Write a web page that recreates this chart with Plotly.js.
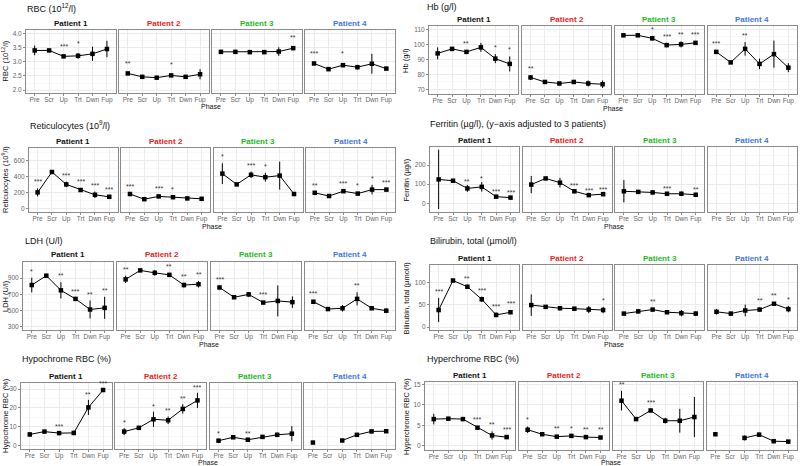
<!DOCTYPE html>
<html>
<head>
<meta charset="utf-8">
<script src="https://cdn.plot.ly/plotly-3.0.1.min.js"></script>
<style>html,body{margin:0;padding:0;background:#fff;}#chart{width:800px;height:466px;}</style>
</head>
<body>
<div id="chart"></div>
<script>
const phases = ['Pre','Scr','Up','Trt','Dwn','Fup'];
const patients = ['Patient 1','Patient 2','Patient 3','Patient 4'];
const patientColors = ['#111111','#EE2222','#22BB22','#4477DD'];

// RBC (10^12/l)
const rbcMean = [[3.40,3.40,3.19,3.21,3.28,3.45],[2.59,2.47,2.44,2.52,2.47,2.56],[3.35,3.35,3.34,3.34,3.36,3.48],[2.94,2.74,2.88,2.81,2.93,2.76]];
const rbcSd   = [[0.17,0.03,0.03,0.10,0.25,0.29],[0.03,0.03,0.02,0.04,0.05,0.18],[0.04,0.05,0.03,0.03,0.15,0.05],[0.03,0.04,0.07,0.08,0.35,0.05]];
const rbcSig  = [['','','***','*','',''],['**','','','*','',''],['','','','','','**'],['***','','*','','','']];

// Hb (g/l)
const hbMean = [[94,97,95,98,90.5,87],[78,75,74,75,74,73.5],[106,106,104,99.5,100,101],[95,88,97,87,93.5,84.5]];
const hbSd   = [[4,1,1,3,3,5],[1.5,1,1,1,2,2.5],[1,1,1.5,1.5,2,1],[1,1,4.5,3.5,9,3]];
const hbSig  = [['','','**','','*','*'],['**','','','','',''],['','','*','***','**','***'],['***','','**','','','']];

// Reticulocytes (10^9/l)
const retMean = [[205,460,305,235,175,150],[185,120,155,145,130,125],[440,305,425,395,415,185],[200,160,220,190,240,240]];
const retSd   = [[50,15,35,20,40,15],[15,20,15,15,10,10],[130,10,40,55,175,15],[15,15,15,20,60,10]];
const retSig  = [['***','','***','***','***','***'],['***','','***','*','',''],['*','','***','*','',''],['**','','***','*','*','***']];

// Ferritin (ug/l)
const ferMean = [[125,118,78,86,35,30],[98,130,108,63,43,48],[63,60,57,50,50,45],[null,null,null,null,null,null]];
const ferSd   = [[155,8,18,25,8,8],[45,8,25,10,8,8],[58,8,10,10,12,10],[null,null,null,null,null,null]];
const ferSig  = [['','','**','*','***','***'],['','','','***','***','***'],['','','','***','','**'],['','','','','','']];

// LDH (U/l)
const ldhMean = [[815,930,750,645,515,535],[885,995,965,940,815,825],[785,665,700,600,620,605],[610,520,530,645,530,500]];
const ldhSd   = [[90,10,100,15,110,135],[45,10,35,25,30,40],[20,15,30,20,190,70],[20,10,40,80,20,30]];
const ldhSig  = [['*','','**','***','**','**'],['**','','','**','**','**'],['***','','','***','',''],['***','','','**','','']];

// Bilirubin, total (umol/l)
const bilMean = [[38,104,90,62,27,33],[49,45,42,41,39,38],[30,35,39,33,31,30],[34,30,37,39,52,40]];
const bilSd   = [[27,3,5,6,5,4],[24,4,4,4,8,7],[3,5,3,3,7,5],[6,4,13,5,3,7]];
const bilSig  = [['***','','**','***','***','***'],['','','','','','*'],['','','**','','',''],['','','','**','**','*']];

// Hypochrome RBC (%)
const hypoMean = [[6,7.5,6.7,6.8,20.3,29.5],[7.5,9.5,14,13.5,19.5,24],[2.7,4.5,3.2,4.7,5.8,6.4],[1.7,null,2.8,5.8,7.6,7.7]];
const hypoSd   = [[1.2,0.8,0.7,1.2,4,0.7],[1.8,0.6,4,2,2.5,4],[1,0.8,0.6,0.8,1.2,4],[0.5,null,0.6,0.8,0.7,0.8]];
const hypoSig  = [['','','***','','**','***'],['*','','*','**','**','***'],['*','','**','','',''],['','','','','','']];

// Hyperchrome RBC (%)
const hyperMean = [[6.5,6.6,6.5,4.4,2.5,2.1],[3.9,2.8,2.2,2.4,2.1,2.0],[11,6.5,8.6,6.1,6.1,7],[2.8,null,1.9,2.7,1.1,1.0]];
const hyperSd   = [[1.3,0.4,0.4,0.4,1,0.3],[0.8,0.3,0.3,0.3,0.3,0.3],[2.4,0.3,0.4,0.7,2.9,4.9],[0.4,null,0.6,0.5,0.5,0.4]];
const hyperSig  = [['','','','***','**','***'],['*','','**','*','**','**'],['**','','***','','',''],['','','','','','']];

const W = 800, H = 466;
const FONT = 'Liberation Sans, Arial, Helvetica, sans-serif';

const groups = [
  {mean: rbcMean, sd: rbcSd, sig: rbcSig, title: 'RBC (10<sup>12</sup>/l)', ytitle: 'RBC (10<sup>12</sup>/l)',
   range: [1.9, 4.12], tick0: 2, dtick: 0.5, fmt: '.1f', box: [26, 395, 30, 93], tpos: [25, 8], ytx: 5, shift: 4},
  {mean: hbMean, sd: hbSd, sig: hbSig, title: 'Hb (g/l)', ytitle: 'Hb (g/l)',
   range: [67, 112.2], tick0: 70, dtick: 10, fmt: '', box: [429, 797, 26, 94], tpos: [425, 7], ytx: 406, shift: 1},
  {mean: retMean, sd: retSd, sig: retSig, title: 'Reticulocytes (10<sup>9</sup>/l)', ytitle: 'Reticulocytes (10<sup>9</sup>/l)',
   range: [-40, 760], tick0: 0, dtick: 200, fmt: '', box: [29, 395, 148, 212], tpos: [28, 125], ytx: 5, shift: 1},
  {mean: ferMean, sd: ferSd, sig: ferSig, title: 'Ferritin (µg/l), (y\u2212axis adjusted to 3 patients)', ytitle: 'Ferritin (µg/l)',
   range: [-45, 294], tick0: 0, dtick: 100, fmt: '', box: [430, 797, 147, 212], tpos: [428, 124], ytx: 406, shift: -2},
  {mean: ldhMean, sd: ldhSd, sig: ldhSig, title: 'LDH (U/l)', ytitle: 'LDH (U/l)',
   range: [263, 1098], tick0: 300, dtick: 200, fmt: '', box: [23, 395, 262, 330], tpos: [23, 241], ytx: 5, shift: 1},
  {mean: bilMean, sd: bilSd, sig: bilSig, title: 'Bilirubin, total (µmol/l)', ytitle: 'Bilirubin, total (µmol/l)',
   range: [-6.7, 138.7], tick0: 0, dtick: 50, fmt: '', box: [430, 797, 265, 330], tpos: [428, 241], ytx: 406, shift: 1},
  {mean: hypoMean, sd: hypoSd, sig: hypoSig, title: 'Hypochrome RBC (%)', ytitle: 'Hypochrome RBC (%)',
   range: [-1.7, 33.2], tick0: 0, dtick: 10, fmt: '', box: [21, 395, 383, 449], tpos: [20, 359], ytx: 5, shift: 0},
  {mean: hyperMean, sd: hyperSd, sig: hyperSig, title: 'Hyperchrome RBC (%)', ytitle: 'Hyperchrome RBC (%)',
   range: [-1.05, 15.56], tick0: 0, dtick: 5, fmt: '', box: [425, 797, 382, 450], tpos: [425, 359], ytx: 406, shift: 1}
];

const traces = [];
const annotations = [];
const layout = {
  width: W, height: H,
  margin: {l: 0, r: 0, t: 0, b: 0},
  paper_bgcolor: '#ffffff', plot_bgcolor: '#ffffff',
  showlegend: false,
  font: {family: FONT, size: 7, color: '#4d4d4d'}
};

const GAP = 3.5;
let n = 0;
groups.forEach(g => {
  const [x0, x1, yTop, yBot] = g.box;
  const pw = (x1 - x0 - 3 * GAP) / 4;
  const yd = [1 - yBot / H, 1 - yTop / H];
  for (let p = 0; p < 4; p++) {
    n++;
    const xs = n === 1 ? 'x' : 'x' + n;
    const ys = n === 1 ? 'y' : 'y' + n;
    const xk = n === 1 ? 'xaxis' : 'xaxis' + n;
    const yk = n === 1 ? 'yaxis' : 'yaxis' + n;
    const px0 = x0 + p * (pw + GAP), px1 = px0 + pw;
    layout[xk] = {
      domain: [px0 / W, px1 / W], anchor: ys, type: 'category',
      categoryorder: 'array', categoryarray: phases, range: [-0.6, 5.6],
      showline: true, mirror: true, linecolor: '#8a8a8a', linewidth: 1,
      showgrid: true, gridcolor: '#ebebeb', gridwidth: 1, zeroline: false,
      ticks: 'outside', ticklen: 2, tickcolor: '#8a8a8a', tickwidth: 1, tickangle: 0,
      ticklabelstandoff: -2,
      tickfont: {family: FONT, size: 6.5, color: '#666666'}, fixedrange: true
    };
    layout[yk] = {
      domain: yd, anchor: xs, range: g.range, tick0: g.tick0, dtick: g.dtick,
      tickformat: g.fmt, showticklabels: p === 0,
      showline: true, mirror: true, linecolor: '#8a8a8a', linewidth: 1,
      showgrid: true, gridcolor: '#ebebeb', gridwidth: 1, zeroline: false,
      ticks: p === 0 ? 'outside' : '', ticklen: 2, tickcolor: '#8a8a8a', tickwidth: 1,
      minor: {dtick: g.dtick / 2, tick0: g.tick0, showgrid: true, gridcolor: '#f5f5f5', gridwidth: 0.6, ticks: ''},
      tickfont: {family: FONT, size: 6.5, color: '#666666'}, fixedrange: true
    };
    traces.push({
      type: 'scatter', mode: 'lines+markers', xaxis: xs, yaxis: ys,
      x: phases, y: g.mean[p], connectgaps: false,
      line: {color: '#000000', width: 1},
      marker: {symbol: 'square', size: 4.5, color: '#000000'},
      error_y: {type: 'data', array: g.sd[p], visible: true, thickness: 1, width: 0, color: '#000000'},
      hoverinfo: 'skip', cliponaxis: false
    });
    g.sig[p].forEach((s, i) => {
      if (!s || g.mean[p][i] === null) return;
      annotations.push({
        xref: xs, yref: ys, x: phases[i], y: g.mean[p][i] + g.sd[p][i],
        text: s, showarrow: false, yanchor: 'bottom', xanchor: 'center', yshift: g.shift,
        font: {family: FONT, size: 7, color: '#333333'}
      });
    });
    annotations.push({
      xref: 'paper', yref: 'paper', x: (px0 + px1) / 2 / W, y: 1 - (yTop - 7) / H,
      text: '<b>' + patients[p] + '</b>', showarrow: false, xanchor: 'center', yanchor: 'middle',
      font: {family: FONT, size: 8, color: patientColors[p]}
    });
  }
  annotations.push({
    xref: 'paper', yref: 'paper', x: g.tpos[0] / W, y: 1 - g.tpos[1] / H,
    text: g.title, showarrow: false, xanchor: 'left', yanchor: 'middle',
    font: {family: FONT, size: 9, color: '#111111'}
  });
  annotations.push({
    xref: 'paper', yref: 'paper', x: g.ytx / W, y: 1 - (yTop + yBot) / 2 / H,
    text: g.ytitle, showarrow: false, textangle: -90, xanchor: 'center', yanchor: 'middle',
    font: {family: FONT, size: 7.5, color: '#111111'}
  });
  const phaseY = Math.min(yBot + 14, 462);
  annotations.push({
    xref: 'paper', yref: 'paper', x: (x0 + x1) / 2 / W, y: 1 - phaseY / H,
    text: 'Phase', showarrow: false, xanchor: 'center', yanchor: 'middle',
    font: {family: FONT, size: 7, color: '#111111'}
  });
});

layout.annotations = annotations;
Plotly.newPlot('chart', traces, layout, {staticPlot: true, displayModeBar: false});
</script>
</body>
</html>
